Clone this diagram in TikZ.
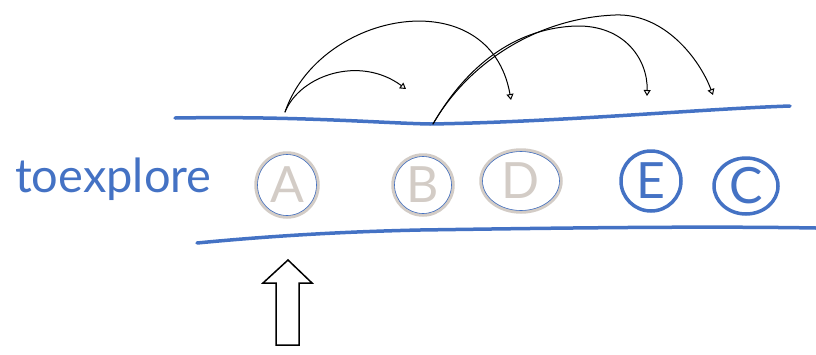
\documentclass[tikz,border=0pt]{standalone}
\usepackage{fontspec}
\setmainfont{Lato}
\usetikzlibrary{shapes.geometric,arrows.meta}
\definecolor{hblue}{HTML}{4472C4}
\definecolor{hgray}{HTML}{D3CCC6}
\begin{document}
\begin{tikzpicture}[x=1pt,y=-1pt,
  blueline/.style={hblue,line width=3.5pt,line cap=round},
  letter/.style={font=\fontsize{50}{50}\selectfont},
  visited/.style={ellipse,draw=hgray,line width=3.5pt,text=hgray,letter,inner sep=0pt},
  frontier/.style={ellipse,draw=hblue,line width=3.5pt,text=hblue,letter,inner sep=0pt},
  inner/.style={hblue,line width=0.6pt},
  arcline/.style={black,line width=1pt,line cap=round,-{Triangle[open,length=6pt,width=7pt]}}]
\useasboundingbox (0,0) rectangle (816,354);

% queue borders
\draw[blueline] (175,118) .. controls (300,116) and (380,123) .. (430,124)
  .. controls (560,122) and (700,109) .. (790,106);
\draw[blueline] (197,243) .. controls (260,237) and (330,232) .. (420,230)
  .. controls (560,228) and (700,226) .. (816,228);

% label
\node[text=hblue,font=\fontsize{47}{47}\selectfont,anchor=base west,inner sep=0pt] (lbl) at (15,192) {toexplore};

% nodes
\node[visited,minimum width=62pt,minimum height=64pt] (A) at (287,185) {A};
\node[visited,minimum width=60pt,minimum height=60pt] (B) at (423,185) {B};
\node[visited,minimum width=80pt,minimum height=62pt] (D) at (521,181) {D};
\node[frontier,minimum width=60pt,minimum height=60pt] (E) at (651,181) {E};
\node[frontier,minimum width=64pt,minimum height=56pt] (C) at (746,186) {C};
\draw[inner] (A.center) ellipse (29.5pt and 30.5pt);
\draw[inner] (B.center) ellipse (28.5pt and 28.5pt);
\draw[inner] (D.center) ellipse (38.5pt and 29.5pt);

% arcs
\coordinate (s1) at (285,112);
\coordinate (s2) at (433,124);
\coordinate (e1) at (406,89);
\coordinate (e2) at (511,100);
\coordinate (e3) at (647,96);
\coordinate (e4) at (713,95);
\draw[arcline] (s1) .. controls (300,75) and (360,55) .. (e1);
\draw[arcline] (s1) .. controls (320,10) and (490,-20) .. (e2);
\draw[arcline] (s2) .. controls (470,60) and (520,28) .. (576,26)
  .. controls (625,25) and (648,60) .. (e3);
\draw[arcline] (s2) .. controls (470,60) and (540,18) .. (615,15)
  .. controls (665,13) and (700,60) .. (e4);

% pointer arrow
\draw[black,line width=1.5pt,line join=miter,fill=white]
  (288,260) -- (312,283) -- (299,283) -- (299,345) -- (276,345) -- (276,283) -- (263,283) -- cycle;
\end{tikzpicture}
\end{document}
